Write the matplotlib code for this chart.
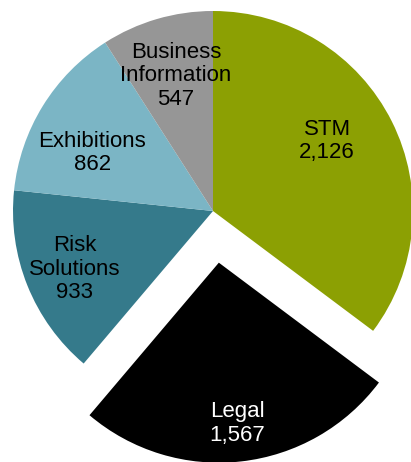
import numpy as np
import matplotlib
matplotlib.use("Agg")
import matplotlib.pyplot as plt

categories = ["STM", "Legal", "Risk\nSolutions", "Exhibitions", "Business\nInformation"]
values = [2126, 1567, 933, 862, 547]
colors = ["#8CA003", "#000000", "#357A8B", "#7BB5C5", "#969696"]
text_colors = ["black", "white", "black", "black", "black"]
explode = [0, 0.26, 0, 0, 0]
label_radius = [0.67, 0.81, 0.75, 0.67, 0.70]
label_angle_shift = [5, 0, 1, 6, -1]

plt.rcParams['font.family'] = ['Liberation Sans', 'DejaVu Sans']

fig = plt.figure(figsize=(4.11, 4.62), dpi=100)
ax = fig.add_axes([0, 0, 1, 1])
wedges, _ = ax.pie(values, colors=colors, explode=explode, startangle=90,
                   counterclock=False, radius=1.0,
                   wedgeprops=dict(linewidth=0))
for w, cat, v, tc, r, da in zip(wedges, categories, values, text_colors,
                                 label_radius, label_angle_shift):
    mid = np.deg2rad((w.theta1 + w.theta2) / 2 + da)
    cx, cy = w.center
    ax.text(cx + r * np.cos(mid), cy + r * np.sin(mid), f"{cat}\n{v:,}",
            ha="center", va="center", fontsize=16, color=tc, linespacing=1.15)

ax.set_xlim(-1.065, 0.99)
ax.set_ylim(-1.255, 1.055)
ax.set_aspect("equal")
ax.axis("off")
fig.savefig("out.png", dpi=100)
